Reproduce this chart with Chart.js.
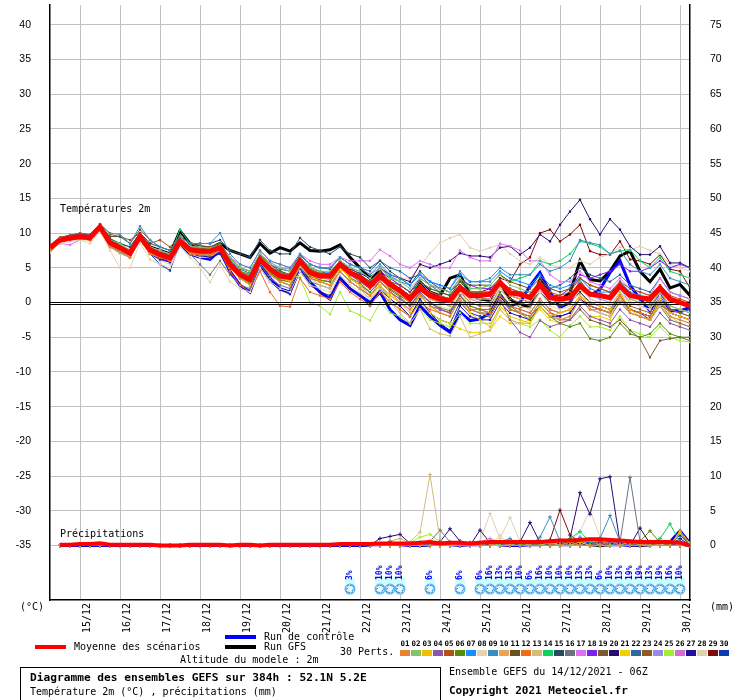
<!DOCTYPE html>
<html>
<head>
<meta charset="utf-8">
<script src="https://cdn.jsdelivr.net/npm/chart.js@4.4.0/dist/chart.umd.min.js"></script>
<style>
  body { margin: 0; background: #fff; }
  canvas { display: block; }
</style>
</head>
<body>
<canvas id="gefsChart" width="740" height="700"></canvas>
<script>
// GEFS 14/12/2021 06Z, 52.1N 5.2E - one value every 6h (65 steps, 384h)

const dayTicks = [3, 7, 11, 15, 19, 23, 27, 31, 35, 39, 43, 47, 51, 55, 59, 63];
const dayLabels = ['15/12', '16/12', '17/12', '18/12', '19/12', '20/12', '21/12', '22/12',
                   '23/12', '24/12', '25/12', '26/12', '27/12', '28/12', '29/12', '30/12'];
const tempTicks = [-35, -30, -25, -20, -15, -10, -5, 0, 5, 10, 15, 20, 25, 30, 35, 40];
const precipTicks = [0, 5, 10, 15, 20, 25, 30, 35, 40, 45, 50, 55, 60, 65, 70, 75];

const pertColors = [
  '#e8822f', '#87c36a', '#f0c000', '#8e54a8', '#b3520f', '#5a8a0a', '#1a8cff', '#e6d2b0',
  '#3a8dbf', '#e8a55a', '#6b5020', '#f06a20', '#d2bd7a', '#10d060', '#2a4a60', '#6a7580',
  '#e070f0', '#7a20f0', '#7a5a30', '#2a0a70', '#f0d000', '#2a6aa0', '#905a20', '#9a8ae8',
  '#a0f030', '#d070d0', '#2010a0', '#e0d0b0', '#800a0a', '#0a3ab0'
];

// temperature 2m (°C)
const tempMean = [7.9,9.0,9.3,9.5,9.3, 10.9,8.6,7.9,7.1, 9.5,7.6,6.9,6.4, 8.8,7.6,7.4,7.4, 7.9,5.5,4.0,3.3, 6.2,4.8,3.8,3.6, 6.0,4.3,3.8,3.8, 5.5,4.3,3.6,2.4, 3.8,2.6,1.7,0.5, 2.1,1.0,0.5,0.3, 2.1,1.0,1.0,1.2, 2.9,1.4,1.2,0.7, 2.6,0.7,0.5,0.7, 2.4,1.2,1.0,0.7, 2.4,1.0,0.7,0.5, 2.1,0.5,0.0,-0.5];
const tempCtrl = [7.5,9.0,9.5,9.8,9.5, 11.0,8.5,7.5,7.0, 9.5,7.5,6.5,6.0, 8.5,7.0,6.5,6.2, 7.5,4.5,2.5,1.5, 5.5,3.5,2.0,1.5, 5.0,3.0,1.5,0.5, 3.5,2.0,1.0,0.0, 1.5,-1.0,-2.5,-3.3, -0.5,-2.0,-3.3,-4.3, -1.4,-2.6,-2.4,-1.5, 1.0,-0.5,0.0,2.4, 4.3,1.5,-0.7,0.0, 2.9,1.0,1.9,4.3, 6.0,2.5,0.5,-1.2, 1.4,-1.2,-1.2,-0.7];
const tempGfs = [8.0,9.2,9.5,9.6,9.5, 11.0,9.0,8.0,7.0, 9.5,8.0,7.5,7.0, 10.3,8.5,8.0,7.8, 8.5,7.5,7.0,6.5, 8.5,7.1,7.9,7.4, 8.6,7.5,7.4,7.6, 8.3,6.5,5.0,3.5, 4.5,2.5,1.5,0.5, 3.0,1.5,1.0,3.5, 4.0,1.2,0.5,0.3, 2.9,0.5,-0.5,-0.5, 3.3,1.2,0.3,1.4, 6.0,3.3,3.1,4.5, 6.7,7.4,4.5,3.0, 4.8,2.1,2.6,1.0];

const tempPerts = [
  /*01*/ [7.5,9.0,9.5,9.5,9.0, 10.5,8.0,7.5,6.5, 9.0,7.0,6.5,6.0, 8.5,7.0,7.0,7.0, 7.5,5.0,3.5,3.0, 6.0,4.0,3.0,2.5, 5.5,3.5,3.0,2.5, 4.5,3.0,2.0,1.0, 3.0,1.5,0.0,-1.0, 1.0,-0.5,-1.5,-2.0, 0.5,-1.0,-1.5,-2.0, 0.5,-1.0,-1.5,-2.0, 0.0,-1.5,-2.5,-2.0, 0.5,-1.0,-1.0,-1.5, 1.0,-1.5,-2.0,-2.5, 0.0,-2.0,-2.5,-3.0],
  /*02*/ [7.8,9.2,9.4,9.6,9.5, 11.0,9.0,8.5,7.5, 9.8,8.0,7.5,7.0, 9.0,8.0,8.0,7.8, 8.2,6.5,5.0,4.5, 7.0,5.5,5.0,4.5, 6.5,5.0,4.5,4.5, 6.0,5.0,4.5,3.5, 5.0,3.5,3.0,2.0, 3.5,2.5,2.0,1.5, 3.5,2.0,2.0,2.5, 4.0,2.5,2.0,1.5, 3.0,1.0,0.5,1.0, 3.0,1.5,1.0,0.5, 2.0,0.5,0.0,-0.5, 1.5,-0.5,-1.0,-1.5],
  /*03*/ [8.0,9.0,9.2,9.3,9.0, 10.5,8.5,8.0,7.0, 9.3,7.5,7.0,6.5, 8.5,7.5,7.2,7.0, 7.5,5.0,3.5,2.5, 5.8,4.5,3.5,3.0, 5.5,4.0,3.0,2.5, 5.0,3.5,2.5,1.0, 2.5,1.0,0.0,-1.5, 1.0,-0.5,-1.5,-2.0, 0.5,-1.5,-2.5,-3.5, -0.5,-2.0,-2.5,-3.0, -0.5,-2.0,-1.5,-1.0, 1.0,0.0,-0.5,-1.0, 1.5,-1.0,-2.0,-2.5, 0.5,-1.5,-2.0,-2.5],
  /*04*/ [7.6,8.8,9.0,9.2,9.0, 10.6,8.3,7.8,7.2, 9.4,7.6,7.0,6.5, 8.8,7.8,7.5,7.5, 8.0,5.5,4.0,3.5, 6.5,5.0,4.0,3.5, 6.0,4.5,4.0,3.5, 5.0,4.0,3.0,2.0, 3.0,1.5,0.5,-0.5, 1.5,0.0,-1.0,-1.5, 1.0,-1.0,-1.5,-2.0, 0.5,-2.5,-4.3,-5.0, -2.6,-3.5,-3.0,-2.5, -0.5,-2.0,-2.5,-3.0, -1.0,-2.5,-3.0,-3.5, -1.5,-3.0,-3.5,-4.0],
  /*05*/ [7.9,9.1,9.4,9.6,9.4, 11.2,8.8,8.0,7.3, 9.7,7.8,7.2,6.8, 9.2,8.0,7.8,7.6, 8.0,5.8,4.5,3.8, 6.5,5.0,4.2,4.0, 6.4,4.8,4.2,4.0, 5.8,4.5,3.8,2.8, 4.2,3.0,2.0,1.0, 2.5,1.5,1.0,0.5, 2.5,1.5,1.5,1.5, 3.0,2.0,1.5,1.0, 3.0,1.5,1.0,1.5, 3.5,2.5,2.0,1.5, 3.0,2.0,1.5,1.0, 2.5,1.0,0.5,0.0],
  /*06*/ [7.7,9.0,9.3,9.4,9.2, 10.8,8.5,7.6,6.8, 9.2,7.3,6.7,6.2, 8.6,7.4,7.2,7.0, 7.6,5.2,3.6,2.8, 5.8,4.3,3.3,3.0, 5.5,3.8,3.2,3.0, 5.0,3.6,2.8,1.5, 3.0,1.8,0.8,-0.5, 1.2,0.0,-0.8,-1.2, 1.0,-0.5,-1.0,-1.0, 1.5,-0.5,-1.5,-2.5, -0.5,-2.0,-3.0,-3.5, -3.0,-5.2,-5.5,-5.0, -3.0,-4.5,-5.0,-4.5, -3.0,-4.5,-5.0,-5.5],
  /*07*/ [8.0,9.2,9.5,9.7,9.5, 11.0,8.7,8.0,7.2, 9.6,7.8,7.0,6.6, 9.0,7.8,7.6,7.5, 8.0,5.8,4.3,3.6, 6.5,5.2,4.3,4.0, 6.5,5.0,4.5,4.3, 6.0,5.0,4.5,3.5, 5.0,3.8,3.0,2.5, 4.0,3.0,2.5,2.0, 4.0,3.0,3.0,3.0, 4.5,3.5,3.0,2.5, 4.0,2.5,2.0,2.5, 3.5,2.0,1.5,1.5, 3.0,1.5,1.0,0.5, 2.5,0.5,0.0,-0.5],
  /*08*/ [7.2,8.5,8.8,9.0,8.5, 10.3,7.5,5.0,5.0, 8.6,6.2,5.5,5.0, 8.0,6.5,5.0,2.9, 5.5,3.0,2.0,1.5, 5.0,3.0,2.0,1.5, 4.5,2.5,2.0,1.5, 4.0,2.5,1.5,0.5, 2.5,1.0,0.0,-1.0, 1.5,0.0,-0.5,-1.0, 1.5,-0.5,-1.0,-1.0, 2.0,0.0,-0.5,-1.0, 1.5,-0.5,-1.0,-0.5, 2.0,0.5,0.0,-0.5, 1.5,0.0,-0.5,-1.0, 1.0,-0.5,-1.0,-1.5],
  /*09*/ [8.0,9.3,9.6,9.8,9.6, 11.3,10.0,9.8,8.5, 11.0,9.0,8.0,7.5, 9.5,8.5,8.5,8.5, 10.0,7.0,5.5,5.0, 7.5,6.0,5.5,5.0, 7.0,5.5,5.0,5.0, 6.5,5.5,5.0,4.0, 5.5,4.0,3.5,2.5, 4.0,3.0,2.5,2.0, 4.5,3.0,3.0,3.5, 5.0,4.0,4.0,4.0, 5.5,4.5,5.0,6.0, 9.0,8.6,8.3,7.0, 7.5,5.5,4.5,4.0, 5.5,3.5,3.0,2.5],
  /*10*/ [7.8,9.0,9.3,9.5,9.3, 10.8,8.6,7.8,7.0, 9.4,7.5,6.8,6.3, 8.8,7.5,7.3,7.2, 7.8,5.4,3.8,3.0, 6.0,4.5,3.5,3.2, 5.8,4.0,3.5,3.3, 5.2,4.0,3.2,2.0, 3.5,2.2,1.2,0.0, 1.8,0.5,0.0,-0.5, 1.5,0.5,0.5,0.5, 2.5,1.0,0.5,0.0, 2.0,0.5,0.0,0.5, 2.0,1.0,1.0,0.5, 2.0,0.5,0.0,-0.5, 1.5,-0.5,-1.0,-1.5],
  /*11*/ [8.0,9.2,9.6,9.8,9.6, 11.0,9.5,9.5,8.5, 10.5,9.0,8.0,7.5, 9.5,8.5,8.2,8.0, 8.5,6.5,5.0,4.5, 7.0,5.5,4.5,4.0, 6.5,5.0,4.5,4.0, 6.0,5.0,4.0,3.0, 4.5,3.0,2.5,1.5, 3.0,2.0,1.5,1.0, 3.0,2.5,2.5,2.5, 4.0,3.0,2.5,2.0, 3.5,2.0,1.5,2.0, 3.5,2.5,2.0,1.5, 2.5,1.0,0.5,0.0, 2.0,0.5,0.0,-0.5],
  /*12*/ [7.6,8.8,9.1,9.3,9.1, 10.6,8.2,7.4,6.8, 9.0,7.0,6.5,6.0, 8.4,7.0,6.8,6.8, 7.4,4.5,2.5,1.5, 4.5,1.5,-0.5,-0.6, 3.5,1.5,1.0,0.5, 3.0,1.5,0.5,-0.5, 1.5,0.0,-1.0,-2.0, 0.0,-1.0,-1.5,-2.0, 0.5,-1.0,-1.0,-1.5, 1.0,-0.5,-1.0,-1.5, 0.5,-1.0,-1.5,-1.0, 1.0,-0.5,-1.0,-1.5, 1.0,-1.0,-1.5,-2.0, 0.0,-1.5,-2.0,-2.5],
  /*13*/ [7.5,8.8,9.0,9.2,9.0, 10.5,8.0,7.2,6.5, 9.0,7.2,6.6,6.0, 8.4,7.2,7.0,7.0, 7.5,5.0,3.5,2.8, 5.8,4.0,3.0,2.5, 5.2,3.5,2.5,2.0, 4.5,3.0,2.0,0.5, 2.0,0.0,-1.5,-3.0, -1.0,-3.8,-4.5,-4.8, -2.0,-5.0,-4.5,-4.0, -1.0,-2.5,-3.0,-3.0, -0.5,-2.0,-2.5,-2.0, 0.5,-1.0,-1.5,-2.0, 0.5,-1.5,-2.0,-2.5, -0.5,-2.0,-2.5,-3.0],
  /*14*/ [7.9,9.1,9.4,9.6,9.4, 11.0,8.8,8.2,7.5, 9.6,7.8,7.2,6.8, 10.5,8.5,8.0,7.8, 8.5,6.0,4.5,4.0, 6.5,5.0,4.5,4.0, 6.5,5.0,4.5,4.0, 6.0,4.5,4.0,3.0, 4.0,3.0,2.0,1.0, 3.0,2.0,1.5,1.0, 3.0,2.0,2.0,2.5, 4.0,3.0,3.5,4.0, 6.0,5.5,6.0,7.0, 8.8,8.5,8.0,7.0, 7.4,7.6,6.0,5.0, 6.5,4.5,4.0,3.5],
  /*15*/ [8.1,9.3,9.6,9.8,9.6, 11.2,9.2,8.5,8.0, 10.0,8.5,8.0,7.5, 9.5,8.5,8.5,8.5, 9.0,7.5,7.0,6.5, 9.0,7.5,7.0,7.0, 9.3,8.0,7.5,7.0, 8.0,7.0,6.5,5.0, 6.0,4.5,3.5,2.5, 4.5,3.0,2.0,1.5, 3.0,1.5,1.0,1.0, 2.5,1.0,0.5,0.0, 1.5,0.0,-0.5,0.0, 1.5,0.0,-0.5,-1.0, 1.0,-1.0,-1.5,-2.0, 0.5,-1.5,-2.0,-2.5],
  /*16*/ [7.7,8.9,9.2,9.4,9.2, 10.7,8.4,7.6,6.9, 9.3,7.4,6.7,6.2, 8.6,7.0,5.5,4.0, 6.0,4.0,2.5,2.0, 5.5,3.5,2.5,2.0, 5.0,3.0,2.5,2.0, 4.5,3.0,2.0,1.0, 2.5,1.0,0.0,-1.0, 1.0,-0.5,-1.0,-1.5, 0.5,-1.0,-1.5,-1.5, 1.0,-0.5,-1.0,-1.5, 0.5,-1.0,-1.5,-1.0, 0.5,-1.0,-1.5,-2.0, 0.0,-1.5,-2.0,-2.5, -0.5,-2.5,-3.0,-3.5],
  /*17*/ [7.6,8.5,8.3,9.0,9.2, 10.5,8.5,8.0,7.5, 9.5,8.0,7.5,7.0, 9.0,8.0,8.0,8.0, 8.5,6.5,5.5,5.0, 7.5,6.0,5.5,5.0, 7.0,6.0,5.5,5.5, 6.5,6.0,6.0,6.0, 7.6,6.7,5.5,5.0, 6.0,5.5,5.0,5.0, 7.5,6.5,6.0,6.0, 8.5,8.1,7.5,6.0, 6.0,4.0,3.0,3.0, 4.5,3.0,2.5,2.0, 3.5,2.0,1.5,1.0, 3.5,1.5,1.0,0.5],
  /*18*/ [7.9,9.1,9.4,9.6,9.4, 11.0,8.6,7.8,7.0, 9.5,7.6,6.9,6.4, 8.8,7.6,7.4,7.4, 7.9,5.5,4.0,3.3, 6.3,4.8,3.8,3.6, 6.0,4.3,3.8,3.8, 5.5,4.5,4.0,3.0, 4.5,3.5,2.5,1.5, 3.5,2.5,2.0,1.5, 3.5,2.5,2.0,2.0, 3.0,1.5,1.0,0.5, 2.5,1.0,1.0,2.0, 4.0,3.5,4.0,4.5, 5.5,4.5,4.5,5.0, 6.0,5.0,5.5,5.0],
  /*19*/ [7.4,8.7,9.0,9.2,9.0, 10.4,8.2,7.5,6.8, 9.2,7.2,6.6,6.0, 8.5,7.2,7.0,6.8, 7.5,5.0,3.5,2.8, 5.8,4.2,3.2,3.0, 5.6,4.0,3.2,3.0, 5.0,3.5,2.5,1.5, 3.0,1.5,0.5,-0.5, 1.5,0.0,-1.0,-1.5, 1.0,-0.5,-1.0,-1.5, 0.5,-1.0,-1.5,-2.0, -0.5,-2.0,-2.5,-2.5, -1.0,-2.5,-3.0,-3.5, -2.5,-4.0,-5.2,-7.9, -5.5,-5.2,-5.0,-5.0],
  /*20*/ [7.8,9.0,9.3,9.5,9.3, 10.8,8.6,7.9,7.2, 9.5,7.6,7.0,6.5, 8.8,7.6,7.5,7.5, 8.0,5.6,4.2,3.5, 6.3,5.0,4.0,3.8, 6.2,4.6,4.0,4.0, 5.8,4.8,4.2,3.5, 5.0,4.0,3.5,3.0, 5.5,5.0,5.5,6.0, 7.1,6.7,6.7,6.5, 7.9,8.1,6.9,7.9, 9.8,8.8,11.2,13.1, 14.8,12.0,9.8,12.0, 10.5,8.1,6.9,6.9, 8.1,5.7,5.7,5.0],
  /*21*/ [7.6,8.8,9.1,9.3,9.1, 10.6,8.3,7.6,6.9, 9.2,7.3,6.7,6.2, 8.6,7.3,7.1,7.0, 7.6,5.2,3.6,2.9, 5.8,4.3,3.3,3.0, 5.5,3.8,3.2,3.0, 5.0,3.5,2.5,1.0, 2.5,0.5,-1.0,-2.0, 0.0,-1.5,-2.5,-3.0, -3.8,-4.3,-4.3,-4.0, -2.0,-3.0,-3.0,-2.5, -1.0,-2.5,-3.0,-2.5, -0.5,-2.0,-2.0,-2.5, 0.5,-1.5,-2.0,-2.5, -0.5,-2.0,-3.0,-3.5],
  /*22*/ [8.0,9.1,9.4,9.6,9.4, 11.0,9.0,8.5,8.0, 10.0,8.0,7.5,7.0, 9.0,8.0,7.8,7.6, 8.2,6.0,4.8,4.2, 6.8,5.5,4.8,4.5, 6.8,5.5,5.0,4.8, 6.5,5.5,5.0,4.5, 6.0,5.0,4.5,3.5, 4.0,2.5,1.5,1.0, 2.5,1.5,1.5,1.5, 3.0,2.0,1.5,1.5, 3.0,2.0,2.5,3.5, 5.0,4.0,3.5,3.0, 4.0,2.5,2.0,1.5, 3.5,1.5,1.0,0.5],
  /*23*/ [8.2,9.4,9.7,10.0,9.8, 11.3,9.8,9.5,9.0, 10.0,8.5,9.0,8.0, 9.5,8.0,7.8,7.6, 8.3,6.0,4.5,4.0, 6.5,5.0,4.5,4.0, 6.3,4.8,4.2,4.0, 5.8,4.5,3.8,2.5, 3.5,2.0,1.0,0.0, 2.0,0.5,0.0,-0.5, 1.5,0.0,-0.5,-0.5, 2.0,0.5,0.0,-0.5, 1.5,0.0,-0.5,0.0, 1.5,0.0,-0.5,-1.0, 1.0,-0.5,-1.0,-1.5, 0.5,-1.0,-1.5,-2.0],
  /*24*/ [7.9,9.0,9.3,9.5,9.3, 10.9,8.8,8.2,7.6, 9.6,8.0,7.4,7.0, 9.0,8.0,7.8,7.8, 8.3,6.2,5.0,4.5, 7.0,5.8,5.0,4.8, 6.8,5.5,5.0,5.0, 6.5,5.5,5.0,4.0, 5.0,3.5,2.5,1.5, 3.0,1.5,1.0,0.5, 2.5,1.0,0.5,0.5, 3.0,1.5,1.0,0.5, 2.5,0.5,0.0,0.5, 2.5,1.0,0.5,0.0, 2.0,0.0,-0.5,-1.0, 1.5,-0.5,-1.0,-1.5],
  /*25*/ [7.7,8.9,9.2,9.4,9.2, 10.7,8.4,7.7,7.0, 9.3,7.4,6.8,6.3, 8.7,7.4,7.3,7.2, 7.7,6.4,5.0,4.5, 6.5,5.5,4.5,4.0, 3.6,0.0,-0.5,-1.7, 1.5,-1.2,-1.8,-2.6, 0.0,-1.5,-2.0,-3.0, -1.0,-2.5,-3.0,-3.5, -1.5,-3.0,-3.0,-3.0, -1.0,-2.5,-3.0,-3.5, -2.5,-4.0,-5.0,-3.3, -2.0,-3.5,-3.5,-4.0, -2.0,-4.0,-4.5,-5.0, -3.5,-5.0,-5.5,-5.7],
  /*26*/ [7.8,9.0,9.2,9.4,9.2, 10.7,8.5,7.8,7.1, 9.4,7.5,6.8,6.3, 8.7,7.5,7.3,7.2, 7.7,5.3,3.8,3.0, 6.0,4.5,3.5,3.3, 5.8,4.0,3.5,3.5, 5.3,4.0,3.0,2.0, 3.5,2.0,1.0,0.0, 2.0,0.5,0.0,-0.5, 2.0,0.5,0.0,0.0, 2.5,1.0,0.5,0.0, 2.0,0.0,-0.5,0.0, 2.0,0.5,0.0,-0.5, 1.5,0.0,-0.5,-1.0, 1.0,-1.0,-1.5,-2.0],
  /*27*/ [7.6,8.8,9.1,9.3,9.1, 10.5,8.0,7.2,6.5, 9.0,7.0,6.2,5.8, 8.5,7.0,6.8,6.5, 7.0,4.5,2.5,1.5, 5.0,3.0,1.8,1.2, 4.5,2.5,1.5,1.0, 3.5,2.0,1.0,-0.5, 2.0,0.5,-0.5,-2.0, 0.5,-1.5,-3.0,-4.0, -0.5,-2.0,-2.5,-2.5, 0.0,-1.5,-2.0,-2.5, -0.5,-2.0,-2.0,-1.5, 0.5,-0.5,-1.0,-1.5, 0.5,-1.0,-1.5,-2.0, 0.0,-1.5,-2.0,-2.5],
  /*28*/ [7.2,8.6,8.8,9.0,9.0, 10.5,8.0,7.0,6.5, 9.0,7.0,6.0,5.5, 8.5,7.0,6.5,6.5, 7.5,5.0,3.5,3.0, 6.0,4.5,3.5,3.0, 5.5,4.0,3.5,3.5, 5.0,4.0,3.5,3.0, 4.0,3.5,3.5,3.5, 5.2,7.1,8.6,9.3, 9.8,7.9,7.4,7.9, 8.3,7.0,6.0,5.5, 6.5,5.5,5.0,5.0, 6.0,5.5,6.5,7.0, 8.0,7.5,8.1,7.5, 7.0,5.5,5.0,4.5],
  /*29*/ [7.8,9.0,9.3,9.5,9.3, 10.9,8.7,8.0,7.3, 9.5,7.7,7.0,6.6, 8.9,7.7,7.5,7.5, 8.0,5.7,4.2,3.5, 6.3,5.0,4.0,3.8, 6.2,4.5,4.0,4.0, 5.6,4.5,3.8,2.8, 4.0,2.8,2.0,1.0, 2.5,1.2,0.8,0.5, 2.5,1.5,1.5,2.0, 3.5,3.0,5.5,6.5, 10.0,10.5,8.8,9.8, 11.2,7.4,6.9,6.9, 8.8,6.2,6.0,5.5, 6.9,4.8,4.5,2.1],
  /*30*/ [7.5,8.8,9.1,9.3,9.0, 10.5,8.0,7.3,6.5, 9.2,7.0,5.5,4.6, 8.5,7.0,6.8,6.5, 7.5,5.0,3.5,2.5, 5.5,4.0,3.0,2.5, 5.0,3.5,3.0,2.5, 4.5,3.0,2.0,1.0, 2.5,0.5,-0.5,-2.0, 0.5,-1.5,-2.5,-3.0, 0.0,-1.5,-2.0,-2.0, 0.5,-1.0,-1.5,-2.0, 0.0,-1.5,-2.0,-1.5, 0.5,-0.5,-1.0,-1.5, 0.5,-1.0,-1.5,-2.5, -0.5,-1.0,-1.5,-1.0]
];

// precipitation (mm per 6h), steps 1..64
const precipMean = [0.1,0.1,0.2,0.2,0.3,0.1,0.1,0.1, 0.1,0.1,0.0,0.0,0.0,0.1,0.1,0.1, 0.1,0.0,0.1,0.1,0.0,0.1,0.1,0.1, 0.1,0.1,0.1,0.1,0.2,0.2,0.2,0.2, 0.3,0.3,0.3,0.3,0.4,0.5,0.3,0.4, 0.4,0.3,0.4,0.5,0.5,0.5,0.5,0.5, 0.5,0.6,0.7,0.7,0.8,0.9,0.9,0.8, 0.7,0.6,0.5,0.5,0.5,0.5,0.4,0.0];
const precipCtrl = [0,0,0,0,0,0,0,0, 0,0,0,0,0,0,0,0, 0,0,0,0,0,0,0,0, 0,0,0,0,0,0,0,0.1, 0.1,0.2,0.1,0,0,0.1,0.2,0.1, 0,0.1,0.1,0.2,0.1,0,0,0.1, 0.1,0.2,0.1,0.1,0.2,0.3,0.2,0.1, 0.1,0,0.1,0.1,0.2,0.5,2.1,0.3];
const precipGfs = [0,0,0,0,0,0,0,0, 0,0,0,0,0,0,0,0, 0,0,0,0,0,0,0,0, 0,0,0,0,0,0,0,0.1, 0.2,0.3,0.2,0.1,0,0.1,0.3,0.2, 0.1,0.2,0.3,0.2,0.1,0.1,0.2,0.3, 0.2,0.1,0.2,0.3,0.2,0.1,0,0.1, 0.2,0.1,0,0.1,0.2,0.3,0.2,0];

// members: [step, mm] for the steps that are not dry
const precipPerts = [
  /*01*/ [[40,0.3],[45,0.5],[52,0.6],[56,0.8],[60,0.4]],
  /*02*/ [[35,0.3],[44,0.5],[50,0.4],[58,0.6]],
  /*03*/ [[41,0.4],[53,0.5],[63,2.1],[64,0.3]],
  /*04*/ [[34,0.6],[39,0.5],[45,0.4],[56,0.5]],
  /*05*/ [[30,0.2],[42,0.4],[55,0.6],[61,0.5]],
  /*06*/ [[48,0.5],[55,0.7],[59,0.6],[60,2.1],[61,0.4]],
  /*07*/ [[37,0.4],[44,0.6],[53,1.2],[57,0.5]],
  /*08*/ [[38,0.8],[45,1.5],[50,0.6],[62,0.6]],
  /*09*/ [[45,0.5],[46,1.0],[49,1.2],[50,4.1],[51,0.6],[55,1.0],[56,4.3],[57,0.5]],
  /*10*/ [[34,0.6],[35,1.0],[36,0.3],[47,0.5],[54,0.8]],
  /*11*/ [[39,0.5],[46,0.4],[52,0.7],[58,0.4]],
  /*12*/ [[42,0.3],[51,0.5],[54,0.9],[59,0.5]],
  /*13*/ [[36,0.5],[37,1.9],[38,10.2],[39,0.8],[44,0.5]],
  /*14*/ [[47,0.5],[52,1.0],[53,2.0],[54,0.5],[61,1.0],[62,3.1],[63,0.5]],
  /*15*/ [[40,0.4],[49,0.6],[57,0.5]],
  /*16*/ [[38,0.6],[39,2.2],[40,0.5],[48,0.4],[57,0.5],[58,9.8],[59,0.6]],
  /*17*/ [[43,0.5],[44,1.0],[45,0.4],[60,0.6],[62,0.4]],
  /*18*/ [[41,0.6],[50,0.5],[55,0.4],[63,0.6]],
  /*19*/ [[39,0.4],[53,0.6],[56,0.8],[61,0.4]],
  /*20*/ [[33,1.0],[34,1.3],[35,1.6],[36,0.3],[39,0.5],[40,2.4],[41,0.6],[43,2.2],[44,0.4],[47,0.5],[48,3.3],[49,0.4],[52,1.0],[53,7.6],[54,4.5],[55,9.6],[56,9.9],[57,0.3],[59,2.5],[60,0.3]],
  /*21*/ [[44,0.4],[52,0.5],[63,1.8],[64,0.2]],
  /*22*/ [[37,0.4],[46,0.6],[51,0.8],[58,0.5]],
  /*23*/ [[38,0.3],[49,0.5],[55,0.5],[60,0.4]],
  /*24*/ [[42,0.4],[47,0.6],[57,0.5],[62,0.5]],
  /*25*/ [[36,0.4],[37,1.2],[38,1.6],[39,0.5],[50,0.4]],
  /*26*/ [[40,0.3],[48,0.5],[56,0.6]],
  /*27*/ [[45,0.4],[53,0.5],[59,0.6],[63,1.0]],
  /*28*/ [[43,0.6],[44,4.6],[45,1.0],[46,4.0],[47,0.6],[52,0.5],[53,2.0],[54,5.1],[55,1.2],[60,0.4],[61,1.0]],
  /*29*/ [[48,0.4],[50,0.8],[51,5.1],[52,1.5],[53,0.5],[57,0.6]],
  /*30*/ [[41,0.3],[50,0.4],[58,0.5],[63,1.5]]
];

// snow symbols: step and share of members
const snowSteps = [30, 33, 34, 35, 38, 41, 43, 44, 45, 46, 47, 48, 49, 50, 51, 52, 53, 54, 55, 56, 57, 58, 59, 60, 61, 62, 63];
const snowPct   = [3, 10, 10, 10, 6, 6, 6, 16, 13, 13, 10, 6, 16, 10, 10, 10, 13, 13, 6, 10, 13, 19, 19, 13, 19, 16, 10];

const MONO = '"DejaVu Sans Mono", "Liberation Mono", monospace';

function toPoints(values, firstStep) {
  return values.map((v, k) => ({ x: firstStep + k, y: v }));
}

function fromPairs(pairs) {
  const out = [];
  for (let s = 1; s <= 64; s++) out.push(0);   // dry steps
  pairs.forEach(p => { out[p[0] - 1] = p[1]; });
  return out;
}

// chart.js draws the last dataset first: mean on top, control/GFS at the bottom
const datasets = [
  { data: toPoints(tempMean, 0), yAxisID: 'y', borderColor: '#ff0000', borderWidth: 5, pointRadius: 0 },
  { data: toPoints(precipMean, 1), yAxisID: 'yP', borderColor: '#ff0000', borderWidth: 4, pointRadius: 0 }
];
const LAST_DRAWN_MEMBER = datasets.length;
tempPerts.forEach((vals, m) => {
  datasets.push({
    data: toPoints(vals, 0), yAxisID: 'y',
    borderColor: pertColors[m], borderWidth: 1,
    pointStyle: 'rect', pointRadius: 1.6, pointBorderWidth: 0,
    pointBackgroundColor: pertColors[m]
  });
});
precipPerts.forEach((pairs, m) => {
  datasets.push({
    data: toPoints(fromPairs(pairs), 1), yAxisID: 'yP',
    borderColor: pertColors[m], borderWidth: 1,
    pointStyle: 'cross', pointRadius: 2, pointBorderWidth: 1,
    pointBorderColor: pertColors[m]
  });
});
datasets.push(
  { data: toPoints(tempCtrl, 0), yAxisID: 'y', borderColor: '#0000ff', borderWidth: 3, pointRadius: 0 },
  { data: toPoints(tempGfs, 0), yAxisID: 'y', borderColor: '#000000', borderWidth: 3, pointRadius: 0 },
  { data: toPoints(precipCtrl, 1), yAxisID: 'yP', borderColor: '#0000ff', borderWidth: 3, pointRadius: 0 },
  { data: toPoints(precipGfs, 1), yAxisID: 'yP', borderColor: '#000000', borderWidth: 3, pointRadius: 0 }
);

function drawFlake(ctx, cx, cy) {
  ctx.fillStyle = '#5fb4ea';
  ctx.beginPath();
  ctx.arc(cx, cy, 5.5, 0, Math.PI * 2);
  ctx.fill();
  ctx.fillStyle = '#c8ecff';
  ctx.beginPath();
  ctx.arc(cx, cy, 3.2, 0, Math.PI * 2);
  ctx.fill();
  ctx.strokeStyle = '#ffffff';
  ctx.lineWidth = 1;
  for (let k = 0; k < 3; k++) {
    const a = k * Math.PI / 3 + Math.PI / 2;
    ctx.beginPath();
    ctx.moveTo(cx - Math.cos(a) * 4.5, cy - Math.sin(a) * 4.5);
    ctx.lineTo(cx + Math.cos(a) * 4.5, cy + Math.sin(a) * 4.5);
    ctx.stroke();
  }
  ctx.fillStyle = '#2f86d0';
  [[-3, -1], [2, 1], [-1, 3], [0, -4], [3, -3], [-4, 2]].forEach(d => {
    ctx.fillRect(cx + d[0], cy + d[1], 1, 1);
  });
}

const decorPlugin = {
  id: 'decor',
  afterDatasetDraw(chart, args) {
    // double line at 0°C, drawn after the members, under the mean
    if (args.index !== LAST_DRAWN_MEMBER) return;
    const { ctx, chartArea: a } = chart;
    const y0 = Math.round(chart.scales.y.getPixelForValue(0));
    ctx.save();
    ctx.fillStyle = '#000';
    ctx.fillRect(a.left, y0 - 1, a.right - a.left, 1);
    ctx.fillRect(a.left, y0 + 1, a.right - a.left, 1);
    ctx.restore();
  },
  afterDraw(chart) {
    const { ctx, chartArea: a } = chart;
    const xs = chart.scales.x;
    ctx.save();
    ctx.fillStyle = '#000';
    ctx.textBaseline = 'middle';
    ctx.font = '10px ' + MONO;
    ctx.textAlign = 'left';
    ctx.fillText('Températures 2m', a.left + 10, 209);
    ctx.fillText('Précipitations', a.left + 10, 534);

    // day labels, turned
    dayTicks.forEach((v, k) => {
      const px = xs.getPixelForValue(v);
      ctx.save();
      ctx.translate(px + 7, a.bottom + 3);
      ctx.rotate(-Math.PI / 2);
      ctx.textAlign = 'right';
      ctx.fillText(dayLabels[k], 0, 0);
      ctx.restore();
    });
    ctx.textAlign = 'left';
    ctx.fillText('(°C)', 20, 607);
    ctx.fillText('(mm)', 710, 607);

    // snow symbols
    snowSteps.forEach(s => {
      const px = xs.getPixelForValue(s);
      ctx.fillStyle = '#ccffff';
      ctx.fillRect(px - 5, 578, 10, 6);
    });
    snowSteps.forEach((s, k) => {
      const px = xs.getPixelForValue(s);
      drawFlake(ctx, px, 589);
      ctx.save();
      ctx.translate(px, 580);
      ctx.rotate(-Math.PI / 2);
      ctx.fillStyle = '#0000ff';
      ctx.font = 'bold 8px ' + MONO;
      ctx.textAlign = 'left';
      ctx.fillText(snowPct[k] + '%', 0, 0);
      ctx.restore();
    });

    // legend
    ctx.fillStyle = '#ff0000';
    ctx.fillRect(35, 645, 31, 4);
    ctx.fillStyle = '#0000ff';
    ctx.fillRect(225, 635, 31, 4);
    ctx.fillStyle = '#000000';
    ctx.fillRect(225, 645, 31, 4);
    ctx.font = '10px ' + MONO;
    ctx.fillText('Moyenne des scénarios', 74, 647);
    ctx.fillText('Run de contrôle', 264, 637);
    ctx.fillText('Run GFS', 264, 647);
    ctx.fillText('Altitude du modele : 2m', 180, 660);
    ctx.fillText('30 Perts.', 340, 652);

    pertColors.forEach((c, m) => {
      const x0 = 400 + m * 11;
      ctx.fillStyle = c;
      ctx.fillRect(x0, 650, 10, 6);
      ctx.fillStyle = '#000';
      ctx.font = 'bold 7.5px ' + MONO;
      ctx.textAlign = 'center';
      ctx.fillText(String(m + 1).padStart(2, '0'), x0 + 5, 644);
    });
    ctx.textAlign = 'left';

    ctx.strokeStyle = '#000';
    ctx.lineWidth = 1;
    ctx.strokeRect(20.5, 667.5, 420, 40);
    ctx.font = 'bold 11.2px ' + MONO;
    ctx.fillText('Diagramme des ensembles GEFS sur 384h : 52.1N 5.2E', 30, 678);
    ctx.font = '10px ' + MONO;
    ctx.fillText('Température 2m (°C) , précipitations (mm)', 30, 692);
    ctx.fillText('Ensemble GEFS du 14/12/2021 - 06Z', 449, 672);
    ctx.font = 'bold 11px ' + MONO;
    ctx.fillText('Copyright 2021 Meteociel.fr', 449, 691);
    ctx.restore();
  }
};

const gridColor = c => (c.tick && c.tick.value === 0) ? 'rgba(0,0,0,0)' : '#c0c0c0';

new Chart(document.getElementById('gefsChart').getContext('2d'), {
  type: 'line',
  data: { datasets: datasets },
  options: {
    responsive: false,
    animation: false,
    events: [],
    layout: { padding: 0 },
    elements: { line: { tension: 0 } },
    plugins: { legend: { display: false }, tooltip: { enabled: false } },
    scales: {
      x: {
        type: 'linear', min: 0, max: 64,
        afterBuildTicks: s => { s.ticks = dayTicks.map(v => ({ value: v })); },
        afterFit: s => { s.height = 100; },
        ticks: { display: false },
        grid: { color: '#c0c0c0', drawTicks: false },
        border: { color: '#000', width: 1.5 }
      },
      y: {
        position: 'left', min: -300 / 7, max: 300 / 7,
        afterBuildTicks: s => { s.ticks = tempTicks.map(v => ({ value: v })); },
        afterFit: s => { s.width = 50; s.paddingTop = 0; s.paddingBottom = 0; },
        ticks: { padding: 19, color: '#000', font: { family: 'Liberation Sans', size: 10.5 } },
        grid: { color: gridColor, drawTicks: false },
        border: { color: '#000', width: 1.5 }
      },
      yP: {
        position: 'right', min: -300 / 7 + 35, max: 300 / 7 + 35,
        afterBuildTicks: s => { s.ticks = precipTicks.map(v => ({ value: v })); },
        afterFit: s => { s.width = 50; s.paddingTop = 0; s.paddingBottom = 0; },
        ticks: { padding: 20, color: '#000', font: { family: 'Liberation Sans', size: 10.5 } },
        grid: { display: false, drawTicks: false },
        border: { color: '#000', width: 1.5 }
      }
    }
  },
  plugins: [decorPlugin]
});
</script>
</body>
</html>
